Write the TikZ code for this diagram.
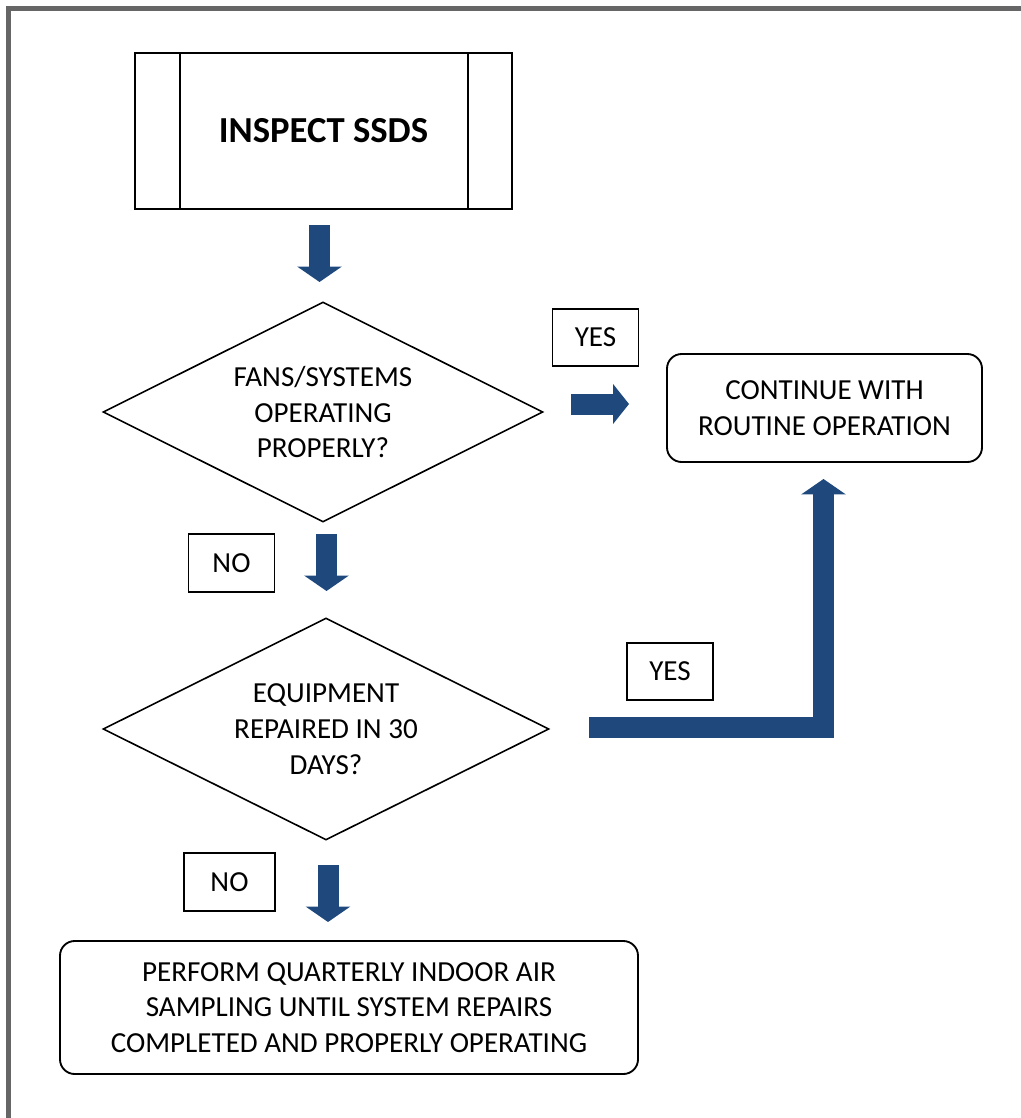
\documentclass[tikz,border=0pt]{standalone}
\usepackage{fontspec}
\setmainfont{Carlito}
\usetikzlibrary{arrows.meta,shapes.geometric}

\definecolor{flowblue}{HTML}{1F497D}
\definecolor{framegray}{HTML}{666666}

\begin{document}
\begin{tikzpicture}[x=0.75pt, y=-0.75pt,
  every node/.style={font=\fontsize{21.8}{26.8}\selectfont, align=center, inner sep=0pt},
  box/.style={draw, line width=1.4pt, rectangle},
  tag/.style={box, minimum width=64.5pt, minimum height=43pt},
  roundbox/.style={box, rounded corners=11pt},
  decision/.style={draw, line width=1.2pt, diamond, aspect=2},
  blockarrow/.style={flowblue, line width=15.75pt, -{Triangle[length=11.6pt, width=33pt]}}]

  \useasboundingbox (0,0) rectangle (1021,1118);

  % Page frame (only top and left edges show)
  \draw[framegray, line width=3.2pt] (8.5,1118) -- (8.5,8.5) -- (1021,8.5);

  % Start: predefined process box
  \node[box, minimum width=282.75pt, minimum height=117pt,
        font=\fontsize{27.5}{33}\selectfont\bfseries] (inspect) at (323.5,131) {INSPECT SSDS};
  \draw[line width=1.4pt] ([xshift=34.5pt]inspect.north west) -- ([xshift=34.5pt]inspect.south west);
  \draw[line width=1.4pt] ([xshift=-34pt]inspect.north east) -- ([xshift=-34pt]inspect.south east);

  % Decisions
  \node[decision, minimum width=330pt, minimum height=165pt] (fans) at (323,412)
    {FANS/SYSTEMS\\OPERATING\\PROPERLY?};
  \node[decision, minimum width=334.5pt, minimum height=166.5pt] (repair) at (326,729)
    {EQUIPMENT\\REPAIRED IN 30\\DAYS?};

  % Outcomes
  \node[roundbox, minimum width=236.25pt, minimum height=81pt] (routine) at (824.5,408)
    {CONTINUE WITH\\ROUTINE OPERATION};
  \node[roundbox, minimum width=433.5pt, minimum height=99.75pt] (sampling) at (349,1007.5)
    {PERFORM QUARTERLY INDOOR AIR\\SAMPLING UNTIL SYSTEM REPAIRS\\COMPLETED AND PROPERLY OPERATING};

  % Yes/No tags
  \node[tag] (yes1) at (595.5,337.5) {YES};
  \node[tag] (no1) at (231.5,563) {NO};
  \node[tag, minimum width=64.5pt] (yes2) at (670,671.5) {YES};
  \node[tag, minimum width=68pt] (no2) at (229.5,882) {NO};

  % Block arrow end points
  \coordinate (a1s) at (319.5,225);  \coordinate (a1e) at (319.5,282);
  \coordinate (a2s) at (326.5,534);  \coordinate (a2e) at (326.5,591);
  \coordinate (a3s) at (328,865);    \coordinate (a3e) at (328,922);
  \coordinate (ars) at (571,404);    \coordinate (are) at (629,404);
  \coordinate (als) at (589,727.5);  \coordinate (alc) at (823.5,727.5);
  \coordinate (ale) at (823.5,479);

  \draw[blockarrow] (a1s) -- (a1e);
  \draw[blockarrow] (a2s) -- (a2e);
  \draw[blockarrow] (a3s) -- (a3e);
  \draw[blockarrow, -{Triangle[length=12pt, width=29.5pt]}] (ars) -- (are);
  \draw[blockarrow] (als) -- (alc) -- (ale);

\end{tikzpicture}
\end{document}
